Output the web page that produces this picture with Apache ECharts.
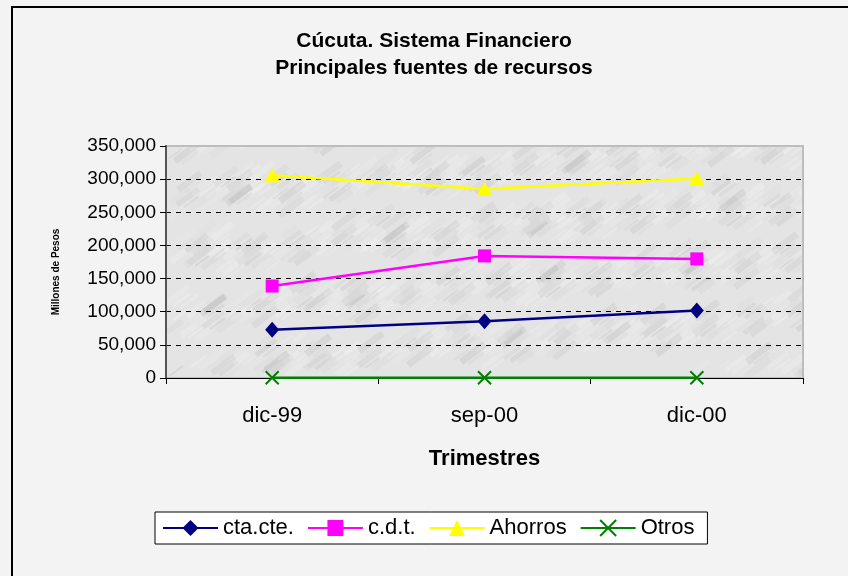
<!DOCTYPE html>
<html>
<head>
<meta charset="utf-8">
<script src="https://cdn.jsdelivr.net/npm/echarts@6/dist/echarts.min.js"></script>
<style>html,body{margin:0;padding:0;background:#f3f3f3;}#c{width:848px;height:576px;}</style>
</head>
<body>
<div id="c"></div>
<script>
var categories = ['dic-99', 'sep-00', 'dic-00'];
var ctaCte = [72700, 85800, 102000];
var cdt = [138800, 184200, 179700];
var ahorros = [306000, 285300, 301000];
var otros = [500, 500, 500];
var yTicks = [0, 50000, 100000, 150000, 200000, 250000, 300000, 350000];

// plot area texture (deterministic)
var GX = 166, GY = 146, GW = 637, GH = 232;
var tex = document.createElement('canvas');
tex.width = 848; tex.height = 576;
var tc = tex.getContext('2d');
tc.fillStyle = '#e4e4e4';
tc.fillRect(GX, GY, GW, GH);
tc.save();
tc.beginPath(); tc.rect(GX, GY, GW, GH); tc.clip();
for (var i = 0; i < 900; i++) {
  var px = GX + ((i * 97) % GW);
  var py = GY + ((i * 53 + Math.floor(i / 7) * 31) % GH);
  var s = Math.sin(i * 1.7) * 0.5 + 0.5;
  var g = Math.round(150 + 105 * Math.abs(Math.sin(i * 2.3)));
  tc.strokeStyle = 'rgba(' + g + ',' + g + ',' + g + ',0.18)';
  tc.lineWidth = 2 + 5 * s;
  tc.beginPath();
  tc.moveTo(px, py);
  tc.lineTo(px + 14 + 10 * s, py - 10 - 8 * s);
  tc.stroke();
}
tc.restore();

var chart = echarts.init(document.getElementById('c'), null, {renderer: 'canvas'});
var font = 'Liberation Sans, Arial, sans-serif';
chart.setOption({
  backgroundColor: '#f3f3f3',
  animation: false,
  textStyle: {fontFamily: font, color: '#000'},
  title: {
    text: 'Cúcuta. Sistema Financiero\nPrincipales fuentes de recursos',
    left: 429, top: 23, textAlign: 'center',
    textStyle: {fontFamily: font, fontSize: 21, fontWeight: 'bold', color: '#000', lineHeight: 27}
  },
  graphic: [{
    type: 'rect', shape: {x: 12, y: 7, width: 900, height: 700},
    style: {fill: 'none', stroke: '#000', lineWidth: 2}, z: 100, silent: true
  }],
  grid: {
    left: GX, top: GY, width: GW, height: GH,
    show: true,
    backgroundColor: {image: tex, repeat: 'no-repeat'},
    borderColor: '#bdbdbd', borderWidth: 2
  },
  legend: {
    left: 155, top: 512,
    padding: [5, 13, 5, 7],
    backgroundColor: '#fff', borderColor: '#000', borderWidth: 1,
    itemWidth: 55, itemHeight: 20, itemGap: 13,
    textStyle: {fontFamily: font, fontSize: 22, color: '#000'},
    data: ['cta.cte.', 'c.d.t.', 'Ahorros', 'Otros']
  },
  xAxis: {
    type: 'category', data: categories, boundaryGap: true,
    name: 'Trimestres', nameLocation: 'middle', nameGap: 70,
    nameTextStyle: {fontFamily: font, fontSize: 22, fontWeight: 'bold', color: '#000'},
    axisLine: {lineStyle: {color: '#000', width: 1}},
    axisTick: {show: true, inside: false, length: 6, lineStyle: {color: '#000'}},
    axisLabel: {fontFamily: font, fontSize: 22, color: '#000', margin: 27},
    splitLine: {show: false}
  },
  yAxis: {
    type: 'value', min: yTicks[0], max: yTicks[yTicks.length - 1], interval: yTicks[1] - yTicks[0],
    name: 'Millones de Pesos', nameLocation: 'middle', nameGap: 105,
    nameTextStyle: {fontFamily: font, fontSize: 10, fontWeight: 'bold', color: '#000', padding: [0, 20, 0, 0]},
    axisLine: {show: true, lineStyle: {color: '#555', width: 2}},
    axisTick: {show: true, inside: false, length: 6, lineStyle: {color: '#000'}},
    axisLabel: {fontFamily: font, fontSize: 19, color: '#000', margin: 10,
      formatter: function (v) { return v.toLocaleString('en-US'); }},
    splitLine: {show: true, showMinLine: false, showMaxLine: false,
      lineStyle: {color: '#000', type: [5, 5], width: 1}}
  },
  series: [
    {name: 'cta.cte.', type: 'line', data: ctaCte, symbol: 'diamond', symbolSize: [14, 16],
      lineStyle: {color: '#000080', width: 2.5}, itemStyle: {color: '#000080'}},
    {name: 'c.d.t.', type: 'line', data: cdt, symbol: 'rect', symbolSize: 13,
      lineStyle: {color: '#ff00ff', width: 2.5}, itemStyle: {color: '#ff00ff'}},
    {name: 'Ahorros', type: 'line', data: ahorros, symbol: 'triangle', symbolSize: [16, 14],
      lineStyle: {color: '#ffff00', width: 2.5}, itemStyle: {color: '#ffff00'}},
    {name: 'Otros', type: 'line', data: otros, symbol: 'path://M0,0L10,10M10,0L0,10', symbolSize: 13,
      lineStyle: {color: '#008000', width: 2.5},
      itemStyle: {color: '#008000', borderColor: '#008000', borderWidth: 2}}
  ]
});
</script>
</body>
</html>
